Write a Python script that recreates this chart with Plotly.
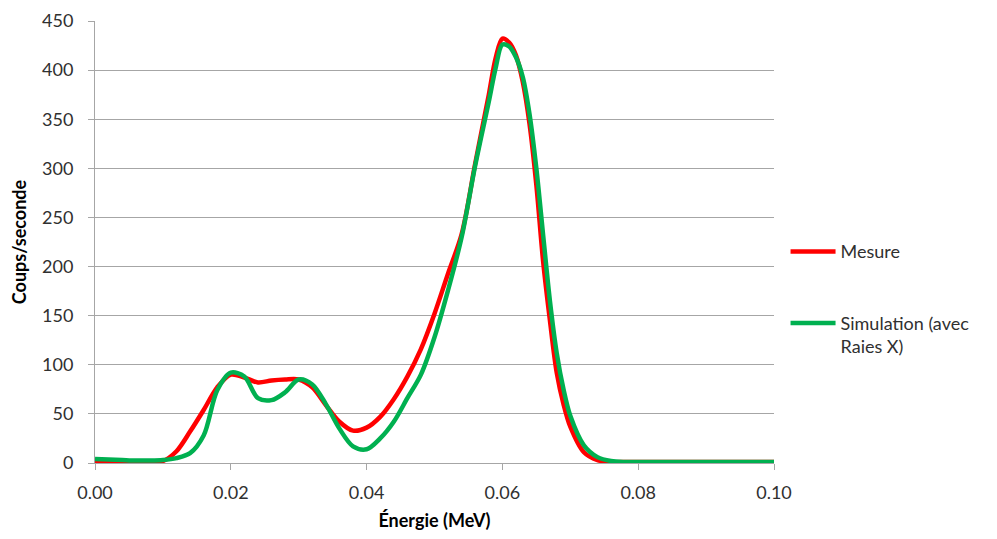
import plotly.graph_objects as go

energie = [0.000, 0.002, 0.004, 0.006, 0.008, 0.010, 0.012, 0.014, 0.016, 0.018,
           0.020, 0.022, 0.024, 0.026, 0.028, 0.030, 0.032, 0.034, 0.036, 0.038,
           0.040, 0.042, 0.044, 0.046, 0.048, 0.050, 0.052, 0.054, 0.056, 0.058,
           0.059, 0.060, 0.061, 0.062, 0.063, 0.064, 0.065, 0.066, 0.067, 0.068,
           0.069, 0.070, 0.072, 0.074, 0.076, 0.078,
           0.080, 0.084, 0.088, 0.092, 0.096, 0.100]

mesure = [1, 1, 1, 1, 1, 2, 12, 32, 54, 77,
          90, 87, 82, 84, 85, 85, 77, 59, 42, 33,
          36, 47, 65, 88, 116, 152, 193, 233, 305, 375,
          412, 432, 428, 415, 388, 345, 283, 205, 145, 92,
          60, 37, 11, 3, 1, 1,
          1, 1, 1, 1, 1, 1]

simulation = [4, 3.5, 3, 2.5, 2.5, 3, 5, 10, 28, 74,
              92, 88, 66, 64, 72, 85, 80, 60, 35, 17,
              14, 25, 42, 66, 90, 128, 176, 230, 303, 368,
              402, 426, 424, 413, 393, 355, 300, 232, 165, 112,
              75, 48, 18, 6, 2, 1,
              1, 1, 1, 1, 1, 1]

x_ticks = [0.00, 0.02, 0.04, 0.06, 0.08, 0.10]
y_ticks = [0, 50, 100, 150, 200, 250, 300, 350, 400, 450]

FONT = "Lato"
TXT = "#303030"
GRID = "#A6A6A6"

fig = go.Figure()
fig.add_trace(go.Scatter(x=energie, y=mesure, mode="lines", name="Mesure",
                         line=dict(color="#FF0000", width=4.5, shape="spline", smoothing=0.9),
                         legend="legend"))
fig.add_trace(go.Scatter(x=energie, y=simulation, mode="lines", name="Simulation (avec<br>Raies X)",
                         line=dict(color="#00B050", width=4.5, shape="spline", smoothing=0.9),
                         legend="legend2"))

# the page body adds an 8px offset, so the figure is 8px smaller with shifted margins
fig.update_layout(
    width=989, height=531,
    margin=dict(l=87, r=223, t=13, b=76),
    paper_bgcolor="white", plot_bgcolor="white",
    font=dict(family=FONT, size=18, color=TXT),
    legend=dict(x=1.017, y=0.478, xanchor="left", yanchor="middle",
                bgcolor="rgba(0,0,0,0)", itemwidth=45, valign="top",
                font=dict(family=FONT, size=18, color=TXT)),
    legend2=dict(x=1.017, y=0.29, xanchor="left", yanchor="middle",
                 bgcolor="rgba(0,0,0,0)", itemwidth=45, valign="top",
                 font=dict(family=FONT, size=18, color=TXT)),
    showlegend=True,
)

fig.update_xaxes(range=[0, 0.1], tickvals=x_ticks, tickformat=".2f",
                 showgrid=False, showline=True, linecolor=GRID, linewidth=1,
                 ticks="outside", ticklen=6, tickcolor=GRID, ticklabelstandoff=7,
                 zeroline=False, automargin=False,
                 title=dict(text="<b>Énergie (MeV)</b>", font=dict(family=FONT, size=18, color="#000"),
                            standoff=12))
fig.update_yaxes(range=[0, 450], tickvals=y_ticks,
                 showgrid=True, gridcolor=GRID, gridwidth=1,
                 showline=True, linecolor=GRID, linewidth=1,
                 ticks="outside", ticklen=6, tickcolor=GRID, ticklabelstandoff=11,
                 zeroline=False, automargin=False,
                 title=dict(text="<b>Coups/seconde</b>", font=dict(family=FONT, size=18, color="#000"),
                            standoff=12))

fig.write_html("out.html")
